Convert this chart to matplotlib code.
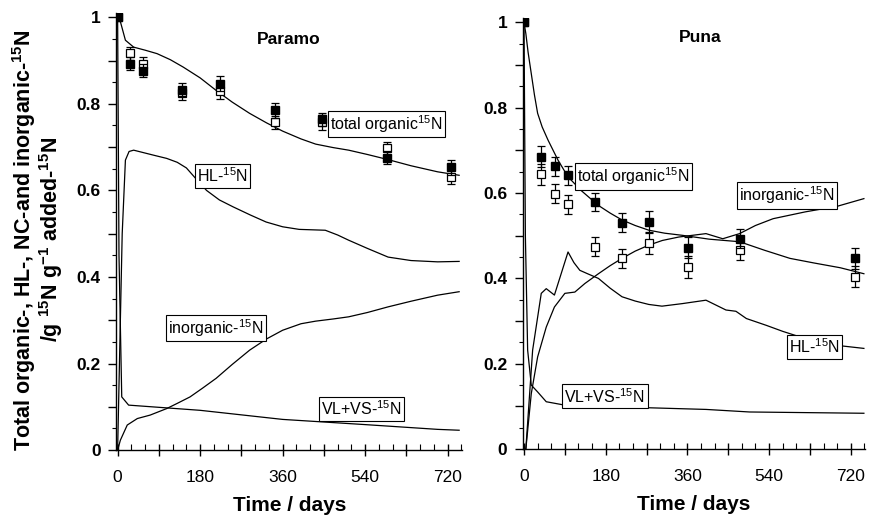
"""Paramo / Puna 15N recovery plots."""

import matplotlib

matplotlib.use('Agg')
import matplotlib.pyplot as plt
from matplotlib.ticker import FuncFormatter, MultipleLocator

plt.rcParams['font.family'] = ['Liberation Sans', 'DejaVu Sans']
plt.rcParams['mathtext.fontset'] = 'custom'
plt.rcParams['mathtext.rm'] = 'Liberation Sans'
plt.rcParams['mathtext.bf'] = 'Liberation Sans:bold'

# --- Paramo: measured points (filled / open squares) ---
PARAMO_DAYS = [0, 28, 56, 140, 224, 343, 445, 587, 727]
PARAMO_FILLED = [1.0, 0.893, 0.877, 0.833, 0.847, 0.785, 0.764, 0.676, 0.653]
PARAMO_FILLED_ERR = [0.0, 0.015, 0.015, 0.015, 0.018, 0.018, 0.015, 0.015, 0.017]
PARAMO_OPEN = [1.0, 0.917, 0.891, 0.825, 0.830, 0.757, 0.757, 0.697, 0.631]
PARAMO_OPEN_ERR = [0.0, 0.015, 0.018, 0.015, 0.018, 0.015, 0.018, 0.015, 0.017]

# --- Paramo: model curves ---
PARAMO_TOTAL_DAYS = [0, 6, 17, 35, 60, 86, 115, 143, 180, 215, 250, 288, 325, 360, 400, 432, 470, 504,
                     545, 587, 640, 698, 745]
PARAMO_TOTAL = [1.0, 0.99, 0.947, 0.931, 0.924, 0.916, 0.902, 0.885, 0.860, 0.831, 0.804, 0.778,
                0.756, 0.737, 0.719, 0.707, 0.699, 0.693, 0.683, 0.672, 0.657, 0.643, 0.635]
PARAMO_HL_DAYS = [0, 4, 10, 17, 25, 35, 50, 80, 107, 130, 150, 170, 194, 222, 252, 290, 324, 360, 396,
                  453, 480, 504, 545, 590, 640, 698, 745]
PARAMO_HL = [0.0, 0.2, 0.50, 0.67, 0.690, 0.693, 0.689, 0.681, 0.674, 0.665, 0.652, 0.628, 0.600,
             0.578, 0.562, 0.543, 0.527, 0.516, 0.510, 0.508, 0.497, 0.485, 0.466, 0.446, 0.438,
             0.435, 0.436]
PARAMO_INORG_DAYS = [0, 6, 21, 43, 71, 107, 130, 158, 185, 215, 250, 288, 325, 360, 400, 432, 470,
                     504, 545, 590, 640, 698, 745]
PARAMO_INORG = [0.0, 0.023, 0.058, 0.073, 0.081, 0.096, 0.108, 0.123, 0.143, 0.166, 0.198, 0.231,
                0.257, 0.277, 0.292, 0.298, 0.303, 0.308, 0.318, 0.331, 0.344, 0.358, 0.366]
PARAMO_VL_DAYS = [0, 3, 9, 24, 180, 360, 540, 698, 745]
PARAMO_VL = [1.0, 0.45, 0.123, 0.104, 0.092, 0.071, 0.059, 0.048, 0.046]

# --- Puna: measured points ---
PUNA_DAYS = [0, 38, 69, 97, 156, 216, 276, 362, 475, 730]
PUNA_FILLED = [1.0, 0.685, 0.663, 0.642, 0.579, 0.531, 0.532, 0.472, 0.493, 0.447]
PUNA_FILLED_ERR = [0.0, 0.025, 0.022, 0.022, 0.022, 0.022, 0.025, 0.025, 0.022, 0.025]
PUNA_OPEN = [1.0, 0.644, 0.599, 0.574, 0.474, 0.447, 0.483, 0.427, 0.466, 0.404]
PUNA_OPEN_ERR = [0.0, 0.025, 0.022, 0.022, 0.022, 0.022, 0.025, 0.025, 0.022, 0.025]

# --- Puna: model curves ---
PUNA_TOTAL_DAYS = [0, 4, 9, 16, 23, 30, 40, 53, 75, 97, 127, 164, 190, 216, 245, 275, 310, 349, 408,
                   475, 530, 586, 640, 697, 749]
PUNA_TOTAL = [1.0, 0.974, 0.93, 0.88, 0.83, 0.787, 0.755, 0.724, 0.677, 0.638, 0.605, 0.571, 0.553,
              0.537, 0.524, 0.513, 0.506, 0.501, 0.492, 0.486, 0.466, 0.447, 0.436, 0.425, 0.411]
PUNA_HL_DAYS = [0, 4, 19, 38, 49, 67, 97, 110, 123, 140, 164, 190, 216, 245, 275, 304, 349, 401, 445,
                467, 490, 534, 570, 608, 645, 682, 749]
PUNA_HL = [0.0, 0.0, 0.232, 0.365, 0.376, 0.361, 0.462, 0.437, 0.419, 0.411, 0.400, 0.377, 0.357,
           0.347, 0.339, 0.335, 0.341, 0.349, 0.326, 0.323, 0.306, 0.290, 0.276, 0.263, 0.253,
           0.244, 0.236]
PUNA_INORG_DAYS = [0, 4, 16, 30, 49, 67, 90, 112, 134, 164, 190, 216, 245, 275, 305, 341, 401, 438,
                   475, 510, 549, 620, 690, 749]
PUNA_INORG = [0.0, 0.0, 0.13, 0.216, 0.286, 0.333, 0.365, 0.368, 0.388, 0.411, 0.430, 0.447, 0.464,
              0.478, 0.489, 0.497, 0.505, 0.493, 0.505, 0.524, 0.540, 0.556, 0.569, 0.587]
PUNA_VL_DAYS = [0, 3, 8, 16, 30, 49, 90, 238, 401, 497, 749]
PUNA_VL = [1.0, 0.5, 0.232, 0.15, 0.134, 0.111, 0.103, 0.098, 0.093, 0.087, 0.084]

# --- box labels: (text, day, value) ---
PARAMO_LABELS = [
    ('total organic$^{15}$N', 586, 0.753),
    ('HL-$^{15}$N', 229, 0.633),
    ('inorganic-$^{15}$N', 214, 0.282),
    ('VL+VS-$^{15}$N', 532, 0.095),
]
PUNA_LABELS = [
    ('total organic$^{15}$N', 241, 0.639),
    ('inorganic-$^{15}$N', 580, 0.594),
    ('HL-$^{15}$N', 640, 0.239),
    ('VL+VS-$^{15}$N', 178, 0.124),
]

LINE_WIDTH = 0.9
LABEL_FONTSIZE = 11.5
TICK_FONTSIZE = 12.5


def _plot_points(ax, days, filled, filled_err, open_, open_err):
    ax.errorbar(days, open_, yerr=open_err, fmt='s', ms=5.5, mfc='white', mec='black', mew=0.9,
                ecolor='black', elinewidth=0.9, capsize=3, capthick=0.9, zorder=4)
    ax.errorbar(days, filled, yerr=filled_err, fmt='s', ms=5.5, mfc='black', mec='black',
                ecolor='black', elinewidth=0.9, capsize=3, capthick=0.9, zorder=5)


def _plot_curves(ax, curves):
    for days, values in curves:
        ax.plot(days, values, color='black', lw=LINE_WIDTH, zorder=3)


def _add_labels(ax, labels):
    for text, day, value in labels:
        ax.text(day, value, text, ha='center', va='center', fontsize=LABEL_FONTSIZE, zorder=6,
                bbox=dict(boxstyle='square,pad=0.15', fc='white', ec='black', lw=0.8))


def _style_axes(ax):
    ax.set_xlim(-3, 752)
    ax.set_ylim(0, 1.01)
    for side in ('top', 'right'):
        ax.spines[side].set_visible(False)
    ax.spines['left'].set_linewidth(1.0)
    ax.spines['bottom'].set_linewidth(1.0)

    ax.xaxis.set_major_locator(MultipleLocator(90))
    ax.xaxis.set_minor_locator(MultipleLocator(30))
    ax.xaxis.set_major_formatter(FuncFormatter(lambda v, _p: f'{v:.0f}' if round(v) % 180 == 0 else ''))
    ax.tick_params(axis='x', which='major', direction='inout', length=8, width=1.0,
                   labelsize=TICK_FONTSIZE, pad=10)
    ax.tick_params(axis='x', which='minor', direction='in', length=4, width=0.8)

    ax.yaxis.set_major_locator(MultipleLocator(0.1))
    ax.yaxis.set_minor_locator(MultipleLocator(0.05))
    ax.yaxis.set_major_formatter(FuncFormatter(lambda v, _p: f'{v:g}' if round(v * 10) % 2 == 0 else ''))
    ax.tick_params(axis='y', which='major', direction='out', length=6, width=1.0,
                   labelsize=TICK_FONTSIZE, pad=5)
    ax.tick_params(axis='y', which='minor', direction='out', length=3, width=0.8)
    for lab in ax.get_yticklabels():
        lab.set_fontweight('bold')

    ax.set_xlabel('Time / days', fontsize=15, fontweight='bold', labelpad=8)


fig = plt.figure(figsize=(8.74, 5.18), dpi=100)
ax_left = fig.add_axes([0.133, 0.131, 0.396, 0.844])
ax_right = fig.add_axes([0.598, 0.133, 0.392, 0.832])

_plot_curves(ax_left, [
    (PARAMO_TOTAL_DAYS, PARAMO_TOTAL),
    (PARAMO_HL_DAYS, PARAMO_HL),
    (PARAMO_INORG_DAYS, PARAMO_INORG),
    (PARAMO_VL_DAYS, PARAMO_VL),
])
_plot_points(ax_left, PARAMO_DAYS, PARAMO_FILLED, PARAMO_FILLED_ERR, PARAMO_OPEN, PARAMO_OPEN_ERR)
_add_labels(ax_left, PARAMO_LABELS)
_style_axes(ax_left)

_plot_curves(ax_right, [
    (PUNA_TOTAL_DAYS, PUNA_TOTAL),
    (PUNA_HL_DAYS, PUNA_HL),
    (PUNA_INORG_DAYS, PUNA_INORG),
    (PUNA_VL_DAYS, PUNA_VL),
])
_plot_points(ax_right, PUNA_DAYS, PUNA_FILLED, PUNA_FILLED_ERR, PUNA_OPEN, PUNA_OPEN_ERR)
_add_labels(ax_right, PUNA_LABELS)
_style_axes(ax_right)

fig.text(289 / 874, 1 - 40 / 518, 'Paramo', ha='center', va='center', fontsize=12.5, fontweight='bold')
fig.text(700 / 874, 1 - 38 / 518, 'Puna', ha='center', va='center', fontsize=12.5, fontweight='bold')

fig.text(0.027, 0.537, 'Total organic-, HL-, NC-and inorganic-$^{\\mathbf{15}}$N',
         rotation=90, ha='center', va='center', fontsize=15.5, fontweight='bold')
fig.text(0.058, 0.537, '/g $^{\\mathbf{15}}$N g$^{\\mathbf{-1}}$ added-$^{\\mathbf{15}}$N',
         rotation=90, ha='center', va='center', fontsize=15.5, fontweight='bold')

fig.savefig('out.png', dpi=100)
